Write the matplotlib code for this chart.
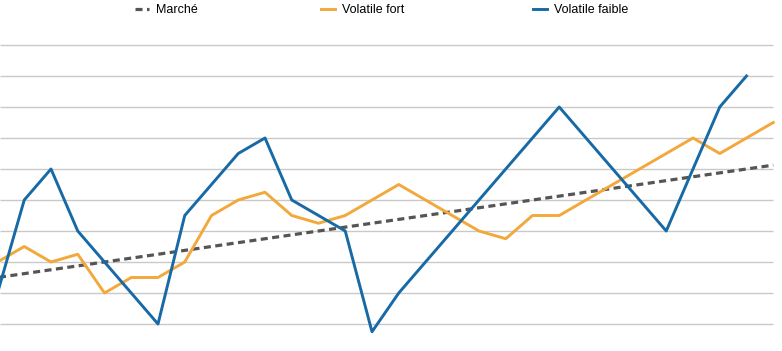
import numpy as np
import matplotlib
matplotlib.use("Agg")
import matplotlib.pyplot as plt

plt.rcParams['font.family'] = ['Liberation Sans', 'DejaVu Sans']

# valeurs (une unité = une ligne de grille)
marche = [1.5 + 0.125 * i for i in range(30)]
vol_fort = [2.0, 2.5, 2.0, 2.25, 1.0, 1.5, 1.5, 2.0, 3.5, 4.0,
            4.25, 3.5, 3.25, 3.5, 4.0, 4.5, 4.0, 3.5, 3.0, 2.75,
            3.5, 3.5, 4.0, 4.5, 5.0, 5.5, 6.0, 5.5, 6.0, 6.5]
vol_faible = [1.0, 4.0, 5.0, 3.0, 2.0, 1.0, 0.0, 3.5, 4.5, 5.5,
              6.0, 4.0, 3.5, 3.0, -0.25, 1.0, 2.0, 3.0, 4.0, 5.0,
              6.0, 7.0, 6.0, 5.0, 4.0, 3.0, 5.0, 7.0, 8.0]
labels = ["Marché", "Volatile fort", "Volatile faible"]
grid_levels = np.arange(0, 10)

c_gris = "#555555"
c_orange = "#f3a83b"
c_bleu = "#176aa5"

fig = plt.figure(figsize=(7.82, 3.51), dpi=100)
ax = fig.add_axes([0, 0, 1, 1])

x0 = 0.0935
ax.set_xlim(x0, x0 + 782 / 26.75)
ax.set_ylim(-27 / 31, 324 / 31)

ax.hlines(grid_levels, x0, 29, color="#c9c9c9", lw=1.0, zorder=1)

l1, = ax.plot(np.arange(len(marche)), marche, color=c_gris, lw=2.3,
              dashes=(2.2, 1.4), zorder=2, label=labels[0])
l2, = ax.plot(np.arange(len(vol_fort)), vol_fort, color=c_orange, lw=2.1,
              zorder=3, label=labels[1])
l3, = ax.plot(np.arange(len(vol_faible)), vol_faible, color=c_bleu, lw=2.1,
              zorder=4, label=labels[2])

ax.axis("off")

# trois légendes séparées pour garder l'espacement de l'original
for h, xpx in zip([l1, l2, l3], [135, 321, 533]):
    fig.legend(handles=[h], loc="center left",
               bbox_to_anchor=(xpx / 782, 1 - 10 / 351),
               frameon=False, fontsize=9, handlelength=1.1,
               handletextpad=0.55, borderpad=0, borderaxespad=0)

fig.savefig("out.png", dpi=100)
